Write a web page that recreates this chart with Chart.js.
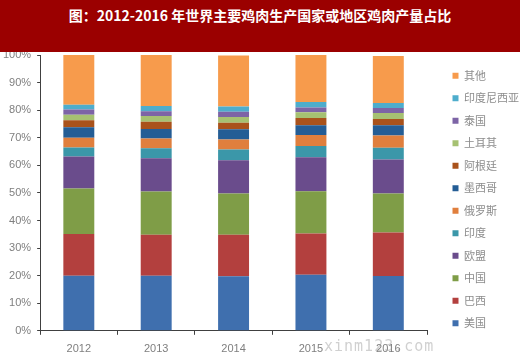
<!DOCTYPE html>
<html>
<head>
<meta charset="utf-8">
<script src="https://cdn.jsdelivr.net/npm/chart.js@4"></script>
<style>
  html, body { margin: 0; padding: 0; background: #ffffff; }
  #wrap { position: relative; width: 520px; height: 353px; overflow: hidden; }
  #chart { position: absolute; left: 0; top: 0; }
  #header {
    position: absolute; left: 0; top: 0; width: 520px; height: 52px;
    background: #9b0000; color: #ffffff;
    font: bold 14px "Noto Sans CJK SC", "DejaVu Serif", serif;
    text-align: center; line-height: 31px;
  }
  #mark {
    position: absolute; left: 324px; top: 337px;
    font: 15px "DejaVu Sans Mono", monospace; color: rgba(150,150,150,0.45);
    letter-spacing: 1px;
  }
</style>
</head>
<body>
<div id="wrap">
  <canvas id="chart" width="520" height="353"></canvas>
  <div id="header">图：2012-2016 年世界主要鸡肉生产国家或地区鸡肉产量占比</div>
  <div id="mark">xinm123.com</div>
</div>
<script>
// years on the x axis
const years = ["2012", "2013", "2014", "2015", "2016"];

// share of world chicken output (%), bottom of the stack first
const usa = [20.0, 20.0, 19.8, 20.3, 19.9];
const brazil = [15.1, 14.8, 15.0, 15.0, 15.7];
const china = [16.5, 15.7, 15.0, 15.3, 14.2];
const eu = [11.6, 12.1, 12.0, 12.3, 12.3];
const india = [3.3, 3.6, 3.9, 4.1, 4.3];
const russia = [3.5, 3.5, 3.7, 4.0, 4.4];
const mexico = [3.8, 3.5, 3.7, 3.5, 3.7];
const argentina = [2.5, 2.6, 2.3, 2.7, 2.3];
const turkey = [2.0, 2.1, 2.1, 2.0, 2.2];
const thailand = [1.9, 1.7, 1.9, 1.8, 1.8];
const indonesia = [1.8, 1.9, 1.9, 2.0, 1.8];
const others = [18.0, 18.5, 18.5, 17.6, 17.0];

const seriesNames = ["美国", "巴西", "中国", "欧盟", "印度", "俄罗斯", "墨西哥", "阿根廷", "土耳其", "泰国", "印度尼西亚", "其他"];
const seriesValues = [usa, brazil, china, eu, india, russia, mexico, argentina, turkey, thailand, indonesia, others];
const seriesColors = ["#3f6fae", "#b3403e", "#7f9d47", "#6a4c8c", "#3b97a9", "#e07f3d",
                      "#245d95", "#a9521b", "#a6c172", "#7d64a6", "#4eadcc", "#f79b4c"];

const yTicks = [0, 10, 20, 30, 40, 50, 60, 70, 80, 90, 100];

const datasets = seriesNames.map(function (name, i) {
  return {
    label: name,
    data: seriesValues[i],
    backgroundColor: seriesColors[i],
    borderWidth: 0,
    barPercentage: 0.4,
    categoryPercentage: 1.0,
  };
});

// nudge the legend right and up without touching the plot area
const legendShift = {
  id: "legendShift",
  afterLayout: function (chart) {
    const lg = chart.legend;
    if (!lg) return;
    lg.left += 14;
    lg.right += 14;
    lg.top -= 10;
    lg.bottom -= 10;
  },
};

const ctx = document.getElementById("chart").getContext("2d");

new Chart(ctx, {
  type: "bar",
  plugins: [legendShift],
  data: {
    labels: years,
    datasets: datasets,
  },
  options: {
    responsive: false,
    animation: false,
    layout: {
      padding: { top: 55, left: -3, right: 5, bottom: -11 },
    },
    scales: {
      x: {
        stacked: true,
        grid: {
          display: true,
          drawOnChartArea: false,
          drawTicks: true,
          tickLength: 4,
          color: "#404040",
          offset: true,
        },
        border: { color: "#404040", width: 1 },
        ticks: {
          padding: 8,
          color: "#7f7f7f",
          font: { family: "Liberation Sans", size: 11 },
        },
      },
      y: {
        stacked: true,
        min: 0,
        max: 100,
        afterBuildTicks: function (scale) {
          scale.ticks = yTicks.map(function (v) { return { value: v }; });
        },
        grid: {
          drawOnChartArea: false,
          drawTicks: true,
          tickLength: 3,
          color: "#404040",
        },
        border: { color: "#404040", width: 1 },
        ticks: {
          padding: 6,
          color: "#7f7f7f",
          font: { family: "Liberation Sans", size: 11 },
          callback: function (value) { return value + "%"; },
        },
      },
    },
    plugins: {
      legend: {
        position: "right",
        reverse: true,
        align: "center",
        labels: {
          boxWidth: 6,
          boxHeight: 6,
          padding: 11.5,
          color: "#8c8c8c",
          font: { family: "Noto Sans CJK SC", size: 11 },
        },
      },
      tooltip: { enabled: false },
    },
  },
});
</script>
</body>
</html>
